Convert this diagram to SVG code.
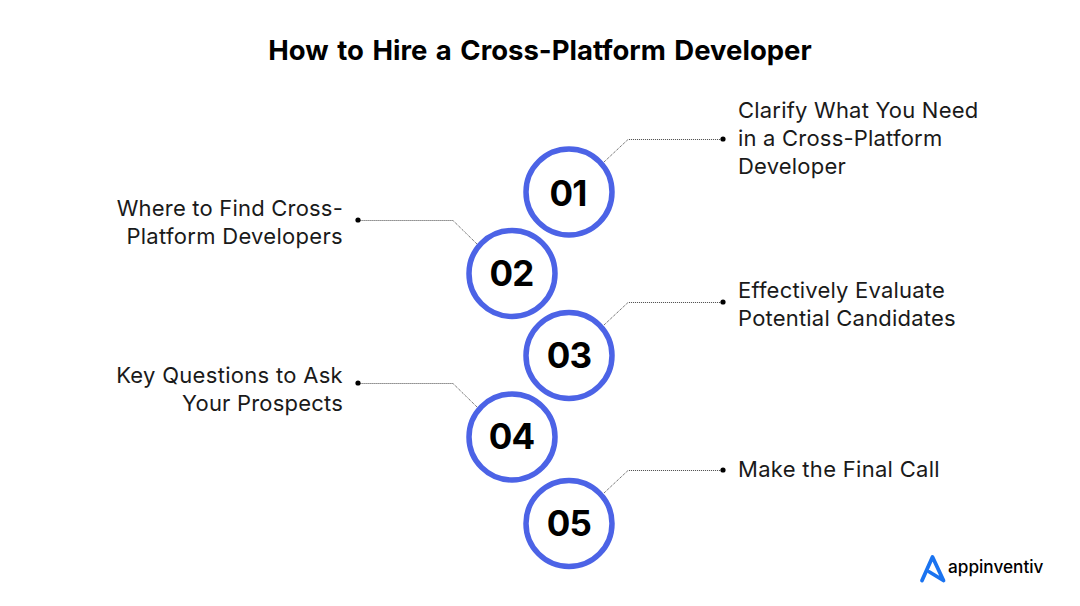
<svg xmlns="http://www.w3.org/2000/svg" width="1080" height="606" viewBox="0 0 1080 606">
<style>
.t{font-family:Inter,"Liberation Sans",sans-serif;font-size:22px;fill:#1a1a1a;letter-spacing:.2px}
.w{letter-spacing:.3px}
.e{text-anchor:end}
.n{font-family:Inter,"Liberation Sans",sans-serif;font-size:35px;font-weight:700;fill:#000;text-anchor:middle;letter-spacing:-.8px}
.c{fill:#fff;stroke:#4c63e6;stroke-width:5.5}
.l{fill:none;stroke:#444;stroke-width:1;stroke-dasharray:1 1}
</style>
<rect width="1080" height="606" fill="#fff"/>
<text x="540" y="60" text-anchor="middle" font-family="Inter,'Liberation Sans',sans-serif" font-size="27.500" font-weight="700" word-spacing="2" fill="#000">How to Hire a Cross-Platform Developer</text>
<g id="connectors">
<path class="l" d="M604 162L628 139.500H723"/><circle cx="723" cy="139" r="2.6"/>
<path class="l" d="M477 244L453 220.500H358"/><circle cx="358" cy="220" r="2.6"/>
<path class="l" d="M604 325L628 302.500H723"/><circle cx="723" cy="302" r="2.6"/>
<path class="l" d="M477 407L453 383.500H358"/><circle cx="358" cy="383" r="2.6"/>
<path class="l" d="M604 493L628 470.500H723"/><circle cx="723" cy="470" r="2.6"/>
</g>
<g id="node1"><circle class="c" cx="569" cy="192" r="43"/><text class="n" x="568" y="206">01</text>
<text class="t" x="738" y="118">Clarify What You Need</text><text class="t" x="738" y="146">in a Cross-Platform</text><text class="t" x="738" y="174">Developer</text></g>
<g id="node2"><circle class="c" cx="512" cy="273.500" r="43"/><text class="n" x="511.500" y="286">02</text>
<text class="t e" x="343" y="216">Where to Find Cross-</text><text class="t e w" x="343" y="244">Platform Developers</text></g>
<g id="node3"><circle class="c" cx="569" cy="355.500" r="43"/><text class="n" x="569" y="368">03</text>
<text class="t" x="738" y="298">Effectively Evaluate</text><text class="t" x="738" y="326">Potential Candidates</text></g>
<g id="node4"><circle class="c" cx="512" cy="437" r="43"/><text class="n" x="511.500" y="449">04</text>
<text class="t e w" x="343" y="383">Key Questions to Ask</text><text class="t e" x="343" y="411">Your Prospects</text></g>
<g id="node5"><circle class="c" cx="569" cy="523.500" r="43"/><text class="n" x="569" y="536">05</text>
<text class="t w" x="738" y="477">Make the Final Call</text></g>
<g id="logo"><path d="M922 580.500L932.500 557L943.500 580.500L929.500 572" fill="none" stroke="#1a73f0" stroke-width="3.800" stroke-linejoin="round" stroke-linecap="round"/>
<text x="948" y="573" font-family="Inter,'Liberation Sans',sans-serif" font-size="17.200" font-weight="500" fill="#000">appinventiv</text></g>
</svg>
